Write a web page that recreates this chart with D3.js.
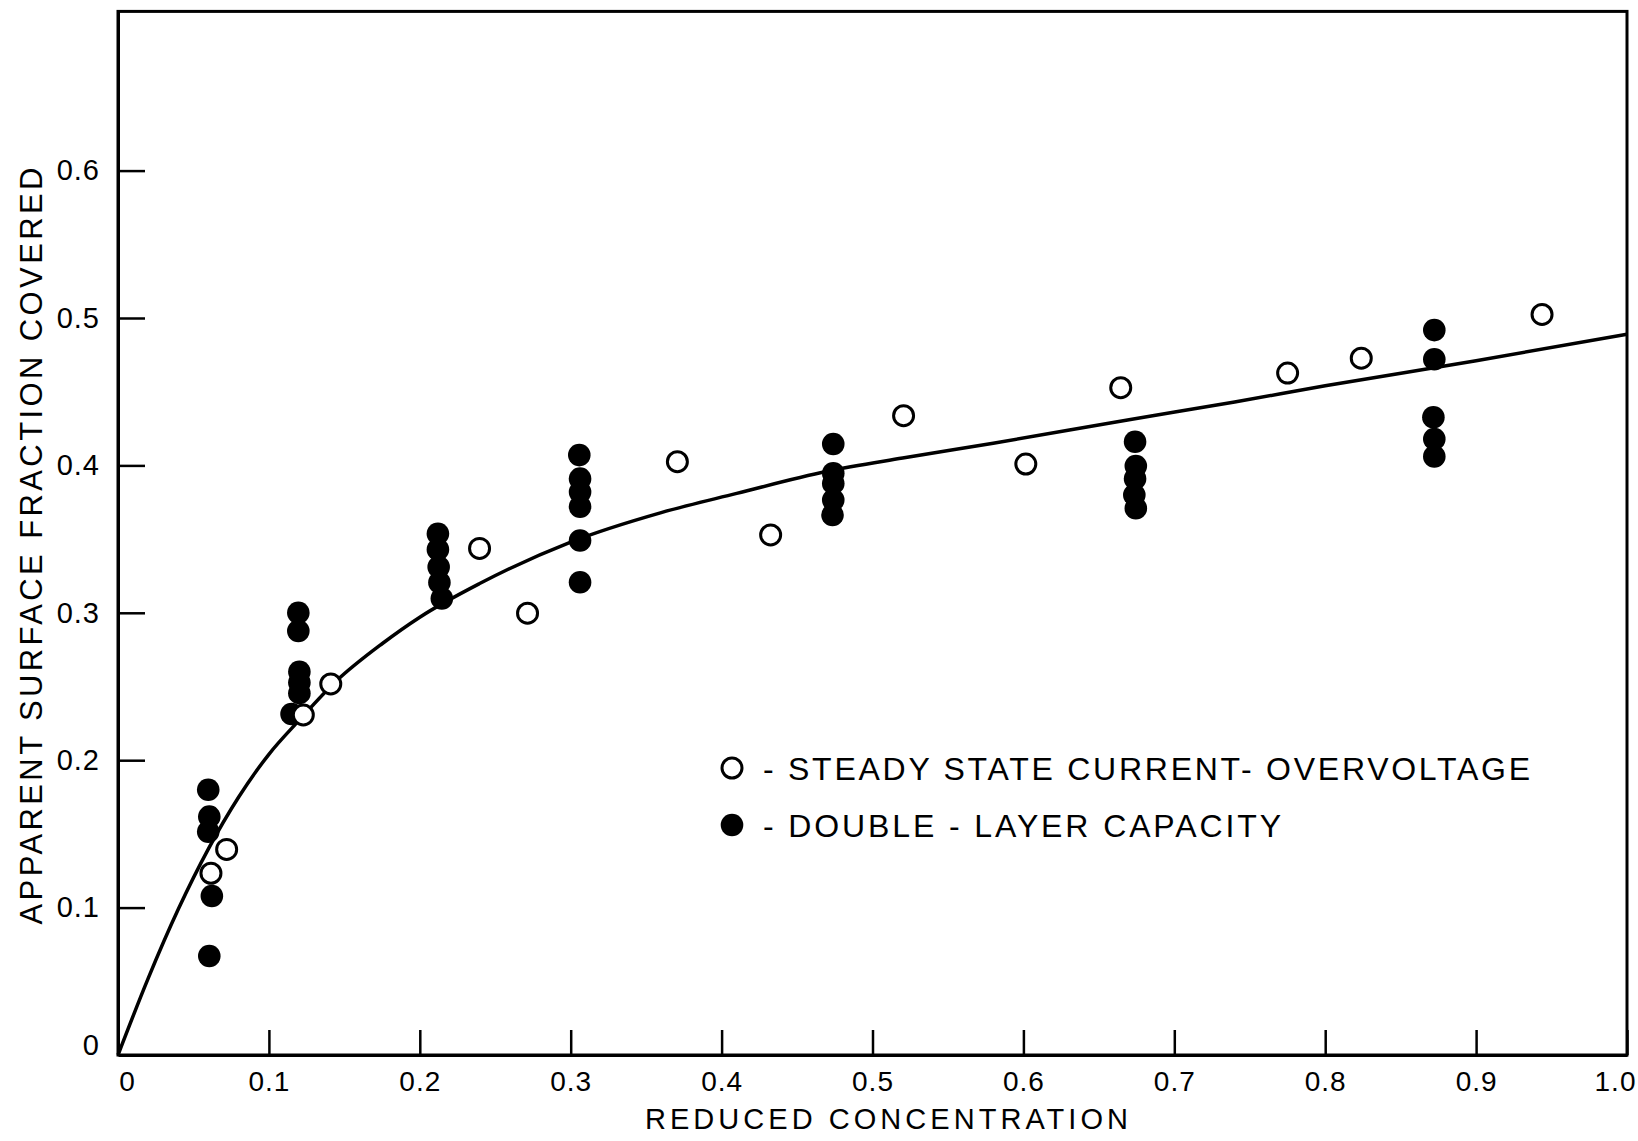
<!DOCTYPE html>
<html>
<head>
<meta charset="utf-8">
<script src="https://cdn.jsdelivr.net/npm/d3@7"></script>
<style>
  html, body { margin: 0; padding: 0; background: #fff; }
  svg { display: block; }
  text { font-family: "Liberation Sans", Arial, sans-serif; fill: #000; }
</style>
</head>
<body>
<svg id="chart" width="1638" height="1141"></svg>
<script>
// ---------------- data ----------------
const xTickValues = [0, 0.1, 0.2, 0.3, 0.4, 0.5, 0.6, 0.7, 0.8, 0.9, 1.0];
const xTickLabels = ["0", "0.1", "0.2", "0.3", "0.4", "0.5", "0.6", "0.7", "0.8", "0.9", "1.0"];
const yTickValues = [0, 0.1, 0.2, 0.3, 0.4, 0.5, 0.6];
const yTickLabels = ["0", "0.1", "0.2", "0.3", "0.4", "0.5", "0.6"];

// open circles: steady state current - overvoltage
const steadyX = [0.0616, 0.072, 0.1228, 0.141, 0.2396, 0.2714, 0.3707, 0.4325, 0.5206, 0.6016, 0.6645, 0.7751, 0.8239, 0.9437];
const steadyY = [0.1233, 0.1395, 0.2307, 0.2517, 0.3437, 0.2997, 0.4025, 0.3528, 0.4337, 0.4009, 0.4527, 0.4626, 0.4727, 0.5024];

// filled circles: double-layer capacity
const capX = [0.0598, 0.0605, 0.0598, 0.0622, 0.0605,
              0.1195, 0.1195, 0.1202, 0.1202, 0.1202, 0.115,
              0.212, 0.212, 0.2125, 0.213, 0.2146,
              0.3057, 0.3062, 0.3062, 0.3062, 0.3062, 0.3062,
              0.474, 0.474, 0.474, 0.474, 0.4735,
              0.674, 0.6745, 0.674, 0.6735, 0.6745,
              0.8723, 0.8723, 0.8717, 0.8723, 0.8723];
const capY = [0.180, 0.1617, 0.1515, 0.1079, 0.0672,
              0.300, 0.2877, 0.260, 0.2527, 0.2455, 0.2313,
              0.3536, 0.343, 0.331, 0.3206, 0.3097,
              0.407, 0.391, 0.382, 0.372, 0.349, 0.3207,
              0.4145, 0.3946, 0.3878, 0.3765, 0.3663,
              0.416, 0.3996, 0.391, 0.380, 0.3709,
              0.4918, 0.472, 0.4326, 0.4179, 0.406];

// fitted curve
const curveX = [0, 0.02, 0.04, 0.06, 0.08, 0.10, 0.12, 0.145, 0.175, 0.2, 0.24, 0.3, 0.36, 0.41, 0.47, 0.52, 0.58, 0.67, 0.74, 0.8, 0.9, 1.0];
const curveY = [0, 0.052, 0.099, 0.140, 0.175, 0.204, 0.227, 0.254, 0.279, 0.297, 0.32, 0.348, 0.368, 0.381, 0.396, 0.405, 0.415, 0.431, 0.443, 0.454, 0.471, 0.489];

const xTitle = "REDUCED CONCENTRATION";
const yTitle = "APPARENT SURFACE FRACTION COVERED";
const legendLabels = ["- STEADY STATE CURRENT- OVERVOLTAGE", "- DOUBLE - LAYER CAPACITY"];
const xMax = 1.0, yMax = 0.708;

// ---------------- drawing ----------------
const svg = d3.select("#chart");
const plotLeft = 118, plotRight = 1627, plotBottom = 1055, plotTop = 11.4;

const x = d3.scaleLinear().domain([0, xMax]).range([plotLeft, plotRight]);
const y = d3.scaleLinear().domain([0, yMax]).range([plotBottom, plotTop]);

// frame
svg.append("rect")
  .attr("x", plotLeft).attr("y", plotTop)
  .attr("width", plotRight - plotLeft).attr("height", plotBottom - plotTop)
  .attr("fill", "none").attr("stroke", "#000").attr("stroke-width", 3);

// x axis (ticks pointing inward)
const xAxis = d3.axisBottom(x)
  .tickValues(xTickValues)
  .tickFormat((d, i) => xTickLabels[i])
  .tickSizeInner(-25).tickSizeOuter(0).tickPadding(16);
const gx = svg.append("g").attr("transform", `translate(0,${plotBottom})`).call(xAxis);
gx.select(".domain").attr("stroke-width", 3);
gx.selectAll(".tick line").attr("stroke-width", 2.5);
gx.selectAll(".tick text")
  .style("font-size", "28px").style("letter-spacing", "1px")
  .attr("dx", (d, i) => i === 0 ? 9 : (i === xTickValues.length - 1 ? -12 : 0));

// y axis (ticks pointing inward)
const yAxis = d3.axisLeft(y)
  .tickValues(yTickValues)
  .tickFormat((d, i) => yTickLabels[i])
  .tickSizeInner(-27).tickSizeOuter(0).tickPadding(18);
const gy = svg.append("g").attr("transform", `translate(${plotLeft},0)`).call(yAxis);
gy.select(".domain").attr("stroke-width", 3);
gy.selectAll(".tick line").attr("stroke-width", 2.5)
  .attr("display", d => d === 0 ? "none" : null);
gy.selectAll(".tick text")
  .style("font-size", "29px").style("letter-spacing", "1px")
  .attr("y", d => d === 0 ? -10 : 0);

// axis titles
svg.append("text")
  .attr("x", 645).attr("y", 1129)
  .attr("textLength", 483)
  .style("font-size", "29px")
  .text(xTitle);

svg.append("text")
  .attr("transform", "translate(42,546) rotate(-90)")
  .attr("text-anchor", "middle")
  .attr("textLength", 757)
  .style("font-size", "31px")
  .text(yTitle);

// curve
const curvePts = curveX.map((v, i) => [v, curveY[i]]);
svg.append("path")
  .datum(curvePts)
  .attr("fill", "none").attr("stroke", "#000").attr("stroke-width", 3.5)
  .attr("d", d3.line().x(d => x(d[0])).y(d => y(d[1])).curve(d3.curveMonotoneX));

// filled points
const capPts = capX.map((v, i) => [v, capY[i]]);
svg.append("g").selectAll("circle").data(capPts).join("circle")
  .attr("cx", d => x(d[0])).attr("cy", d => y(d[1]))
  .attr("r", 11.3).attr("fill", "#000");

// open points
const steadyPts = steadyX.map((v, i) => [v, steadyY[i]]);
svg.append("g").selectAll("circle").data(steadyPts).join("circle")
  .attr("cx", d => x(d[0])).attr("cy", d => y(d[1]))
  .attr("r", 10).attr("fill", "#fff").attr("stroke", "#000").attr("stroke-width", 3);

// legend
const lg = svg.append("g").attr("transform", "translate(732,768)");
lg.append("circle").attr("cx", 0).attr("cy", 0).attr("r", 10)
  .attr("fill", "#fff").attr("stroke", "#000").attr("stroke-width", 3);
lg.append("circle").attr("cx", 0).attr("cy", 57).attr("r", 11.3).attr("fill", "#000");
lg.append("text").attr("x", 31).attr("y", 11.5).attr("textLength", 767)
  .style("font-size", "32px").text(legendLabels[0]);
lg.append("text").attr("x", 31).attr("y", 68.5).attr("textLength", 518)
  .style("font-size", "32px").text(legendLabels[1]);
</script>
</body>
</html>
